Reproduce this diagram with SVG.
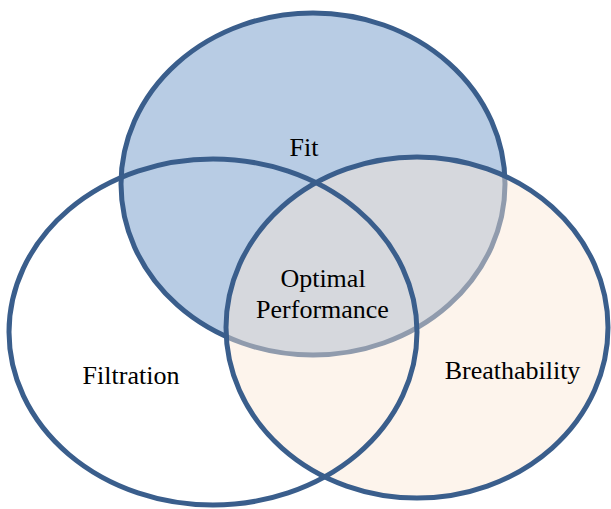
<svg xmlns="http://www.w3.org/2000/svg" width="611" height="509" viewBox="0 0 611 509">
<style>
.ring{fill:none;stroke:#3a5e8c;stroke-width:5}
</style>
<rect width="611" height="509" fill="#ffffff"/>
<g id="fit">
<ellipse cx="313" cy="184" rx="192" ry="171" fill="#b8cce4" stroke="#3a5e8c" stroke-width="5"/>
</g>
<g id="breathability-fill">
<ellipse cx="417" cy="327.5" rx="191" ry="170.5" fill="#fbe6d4" fill-opacity="0.45"/>
</g>
<g id="filtration">
<ellipse class="ring" cx="213" cy="332" rx="204" ry="173"/>
</g>
<g id="breathability">
<ellipse class="ring" cx="417" cy="327.5" rx="191" ry="170.5"/>
</g>
<g id="labels" font-family="Liberation Serif, Times New Roman, serif" font-size="26" fill="#000000" text-anchor="middle">
<text x="304" y="156">Fit</text>
<text x="323" y="287">Optimal</text>
<text x="322.5" y="318">Performance</text>
<text x="131" y="384">Filtration</text>
<text x="512.5" y="379">Breathability</text>
</g>
</svg>
